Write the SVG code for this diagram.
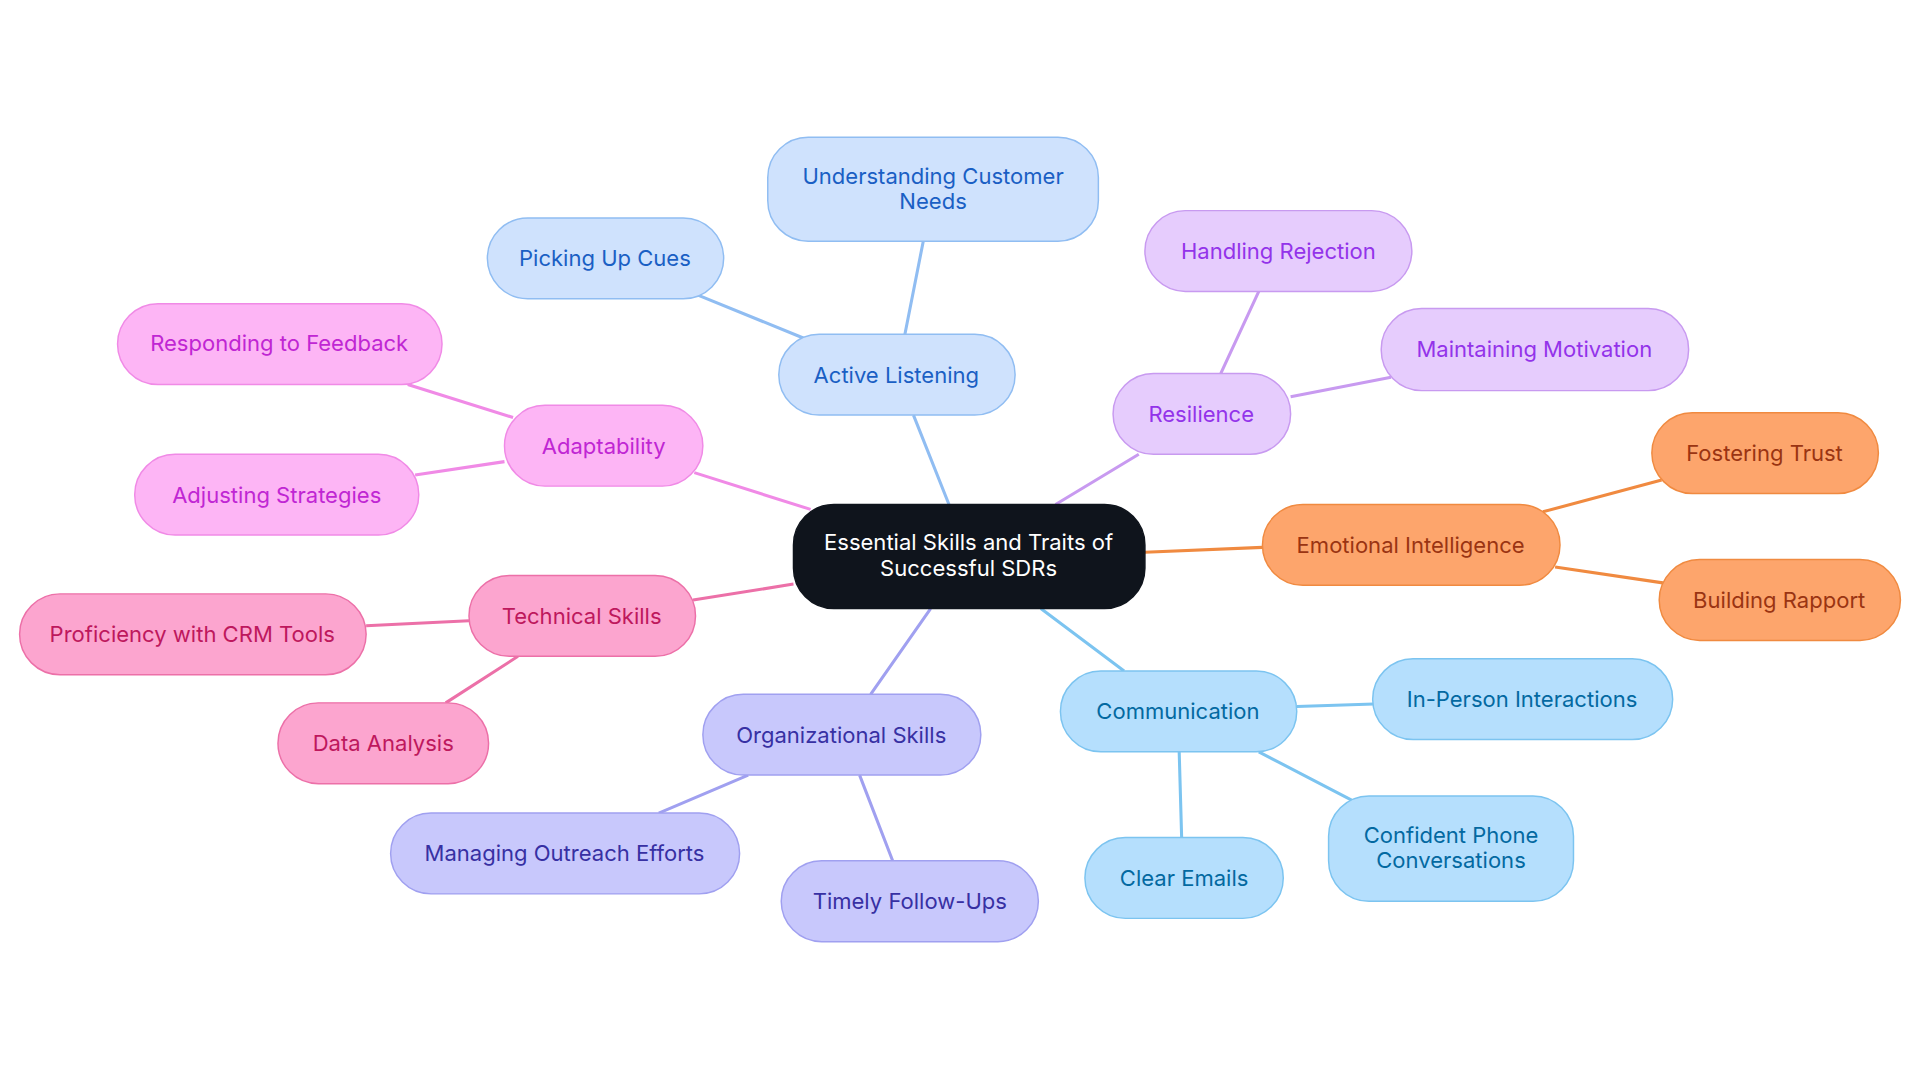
<svg xmlns="http://www.w3.org/2000/svg" width="1920" height="1083" viewBox="0 0 1920 1083">
<style>
text{font-family:Inter,"Noto Sans",sans-serif;font-size:18px;text-anchor:middle;dominant-baseline:central}
.e{fill:none;stroke-width:2.5}
.b rect{fill:#cfe2fd;stroke:#90bdf2}.b text{fill:#1a5fc4}
.p rect{fill:#e6ccfd;stroke:#c89af0}.p text{fill:#9333ea}
.o rect{fill:#fda56c;stroke:#f08a40}.o text{fill:#9a3412}
.c rect{fill:#b5dffd;stroke:#7cc4f0}.c text{fill:#0369a1}
.v rect{fill:#c8c8fc;stroke:#a0a0f0}.v text{fill:#3730a3}
.t rect{fill:#fca5cf;stroke:#ec70a8}.t text{fill:#be185d}
.a rect{fill:#fdb5f5;stroke:#f08ae6}.a text{fill:#c026d3}
rect{stroke-width:1.2}
</style>
<rect width="1920" height="1083" fill="#fff"/>
<g transform="scale(1.2245)">
<g id="connectors">
<path class="e" stroke="#90bdf2" d="M775 412L746 339M739 273L754 197M656 276L570 241"/>
<path class="e" stroke="#c89af0" d="M862 412L930 371M997 305L1028 238M1054 324L1136 308"/>
<path class="e" stroke="#f08a40" d="M935 451L1031 447M1260 418L1357 392M1270 463L1358 476"/>
<path class="e" stroke="#7cc4f0" d="M850 497L918 548M1059 577L1122 575M1028 614L1105 654M963 614L965 684"/>
<path class="e" stroke="#a0a0f0" d="M760 497L711 567M611 633L538 664M702 633L729 703"/>
<path class="e" stroke="#ec70a8" d="M648 477L566 490M383 507L299 511M423 536L364 574"/>
<path class="e" stroke="#f08ae6" d="M662 416L567 386M419 341L333 314M412 377L339 388"/>
</g>
<g id="center"><rect x="648" y="412" width="287" height="85" rx="33" fill="#0f141c" stroke="#0f141c"/><text x="791" y="443" fill="#fff">Essential Skills and Traits of</text><text x="791" y="464" fill="#fff">Successful SDRs</text></g>
<g id="active" class="b"><rect x="636" y="273" width="193" height="66" rx="33"/><text x="732" y="306">Active Listening</text></g>
<g id="understanding" class="b"><rect x="627" y="112" width="270" height="85" rx="33"/><text x="762" y="144">Understanding Customer</text><text x="762" y="164">Needs</text></g>
<g id="cues" class="b"><rect x="398" y="178" width="193" height="66" rx="33"/><text x="494" y="211">Picking Up Cues</text></g>
<g id="resilience" class="p"><rect x="909" y="305" width="145" height="66" rx="33"/><text x="981" y="338">Resilience</text></g>
<g id="rejection" class="p"><rect x="935" y="172" width="218" height="66" rx="33"/><text x="1044" y="205">Handling Rejection</text></g>
<g id="motivation" class="p"><rect x="1128" y="252" width="251" height="67" rx="33"/><text x="1253" y="285">Maintaining Motivation</text></g>
<g id="ei" class="o"><rect x="1031" y="412" width="243" height="66" rx="33"/><text x="1152" y="445">Emotional Intelligence</text></g>
<g id="trust" class="o"><rect x="1349" y="337" width="185" height="66" rx="33"/><text x="1441" y="370">Fostering Trust</text></g>
<g id="rapport" class="o"><rect x="1355" y="457" width="197" height="66" rx="33"/><text x="1453" y="490">Building Rapport</text></g>
<g id="communication" class="c"><rect x="866" y="548" width="193" height="66" rx="33"/><text x="962" y="581">Communication</text></g>
<g id="inperson" class="c"><rect x="1121" y="538" width="245" height="66" rx="33"/><text x="1243" y="571">In-Person Interactions</text></g>
<g id="phone" class="c"><rect x="1085" y="650" width="200" height="86" rx="33"/><text x="1185" y="682">Confident Phone</text><text x="1185" y="702">Conversations</text></g>
<g id="emails" class="c"><rect x="886" y="684" width="162" height="66" rx="33"/><text x="967" y="717">Clear Emails</text></g>
<g id="org" class="v"><rect x="574" y="567" width="227" height="66" rx="33"/><text x="687" y="600">Organizational Skills</text></g>
<g id="outreach" class="v"><rect x="319" y="664" width="285" height="66" rx="33"/><text x="461" y="697">Managing Outreach Efforts</text></g>
<g id="followups" class="v"><rect x="638" y="703" width="210" height="66" rx="33"/><text x="743" y="736">Timely Follow-Ups</text></g>
<g id="technical" class="t"><rect x="383" y="470" width="185" height="66" rx="33"/><text x="475" y="503">Technical Skills</text></g>
<g id="crm" class="t"><rect x="16" y="485" width="283" height="66" rx="33"/><text x="157" y="518">Proficiency with CRM Tools</text></g>
<g id="data" class="t"><rect x="227" y="574" width="172" height="66" rx="33"/><text x="313" y="607">Data Analysis</text></g>
<g id="adaptability" class="a"><rect x="412" y="331" width="162" height="66" rx="33"/><text x="493" y="364">Adaptability</text></g>
<g id="feedback" class="a"><rect x="96" y="248" width="265" height="66" rx="33"/><text x="228" y="280">Responding to Feedback</text></g>
<g id="strategies" class="a"><rect x="110" y="371" width="232" height="66" rx="33"/><text x="226" y="404">Adjusting Strategies</text></g>
</g>
</svg>
